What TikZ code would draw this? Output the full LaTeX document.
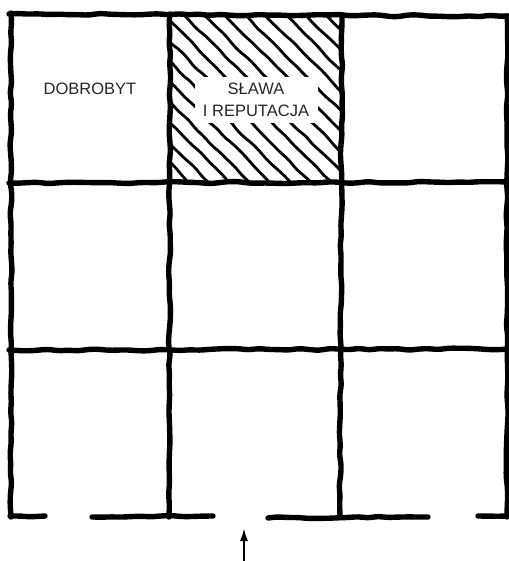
\documentclass[tikz,border=0pt]{standalone}
\usepackage{fontspec}
\setmainfont{Liberation Sans}
\usetikzlibrary{decorations.pathmorphing,arrows.meta}
\begin{document}
\begin{tikzpicture}[x=1pt,y=-1pt,
  wob/.style={line width=5.4pt, line cap=round, line join=round, decorate,
    decoration={random steps, segment length=10pt, amplitude=1.1pt}, rounded corners=4pt},
  hatchline/.style={line width=2.8pt, line cap=round, decorate,
    decoration={random steps, segment length=11pt, amplitude=1pt}, rounded corners=5pt},
  lbl/.style={font=\fontsize{16.5}{22}\selectfont, align=center, text=black!85}]
\pgfmathsetseed{7}
\useasboundingbox (0,0) rectangle (508,561);
% hatching of the top middle cell
\begin{scope}
  \clip (170,15) rectangle (342,183);
  \foreach \k in {-9,...,8} {
    \draw[hatchline] ({181+20.3*\k},12) -- ({181+20.3*\k+175},187);
  }
\end{scope}
% vertical lines
\draw[wob] (11,13) -- (11,517);
\draw[wob] (170,14) -- (169,517);
\draw[wob] (342,15) -- (340,517);
\draw[wob] (507,16) -- (507,517);
% horizontal lines
\draw[wob] (9,14) -- (510,16);
\draw[wob] (9,183) -- (510,182);
\draw[wob] (9,350) -- (510,349);
% bottom line with gaps
\draw[wob] (10,516) -- (45,516);
\draw[wob] (92,517) -- (213,516);
\draw[wob] (268,518) -- (428,517);
\draw[wob] (478,516) -- (510,516);
% labels
\node[lbl] (dobrobyt) at (90,89) {DOBROBYT};
\node[lbl, fill=white, minimum width=123pt, minimum height=46pt, inner sep=0pt] (slawa) at (256,100) {SŁAWA\\I REPUTACJA};
% arrow
\coordinate (arrowbase) at (244,562);
\coordinate (arrowtip) at (244,528);
\draw[line width=2.2pt, -{Latex[length=13pt,width=8pt]}] (arrowbase) -- (arrowtip);
\end{tikzpicture}
\end{document}
